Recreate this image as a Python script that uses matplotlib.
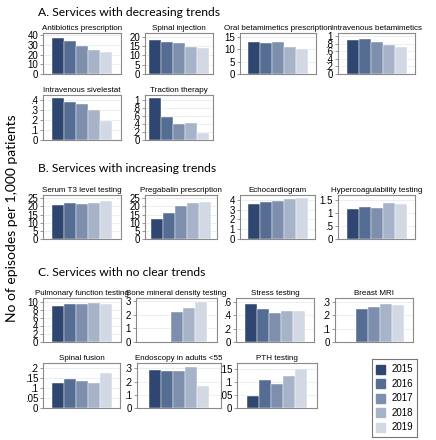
import matplotlib.pyplot as plt
import numpy as np

nan = np.nan

years = ["2015", "2016", "2017", "2018", "2019"]
colors = ["#2F4770", "#566D93", "#7E8FAE", "#A7B3C8", "#D3D9E4"]

# panel titles
titles = [
    "Antibiotics prescription", "Spinal injection", "Oral betamimetics prescription",
    "Intravenous betamimetics", "Intravenous sivelestat", "Traction therapy",
    "Serum T3 level testing", "Pregabalin prescription", "Echocardiogram",
    "Hypercoagulability testing", "Pulmonary function testing", "Bone mineral density testing",
    "Stress testing", "Breast MRI", "Spinal fusion", "Endoscopy in adults <55", "PTH testing",
]

# episodes per 1,000 patients, 2015..2019
antibiotics   = [37.0, 34.0, 29.0, 25.0, 23.2]
spinal_inj    = [18.5, 17.0, 16.4, 14.4, 14.0]
oral_beta     = [12.7, 12.5, 13.0, 10.7, 9.9]
iv_beta       = [0.90, 0.91, 0.85, 0.77, 0.70]
iv_sivelestat = [0.42, 0.38, 0.355, 0.295, 0.185]
traction      = [1.05, 0.57, 0.40, 0.42, 0.17]
serum_t3      = [21.0, 22.0, 21.5, 22.0, 23.2]
pregabalin    = [12.0, 15.7, 20.0, 22.0, 22.6]
echo          = [3.55, 3.75, 3.90, 4.05, 4.15]
hypercoag     = [1.15, 1.22, 1.18, 1.40, 1.37]
pulmonary     = [8.9, 9.6, 9.4, 9.7, 9.4]
bone_density  = [nan, nan, 2.2, 2.5, 2.95]
stress        = [0.57, 0.49, 0.44, 0.46, 0.46]
breast_mri    = [nan, 0.25, 0.265, 0.285, 0.275]
spinal_fusion = [0.125, 0.145, 0.133, 0.127, 0.173]
endoscopy     = [0.29, 0.28, 0.283, 0.31, 0.165]
pth           = [0.048, 0.108, 0.092, 0.126, 0.152]

values = [antibiotics, spinal_inj, oral_beta, iv_beta, iv_sivelestat, traction,
          serum_t3, pregabalin, echo, hypercoag, pulmonary, bone_density,
          stress, breast_mri, spinal_fusion, endoscopy, pth]

yticks = [
    [0, 10, 20, 30, 40], [0, 5, 10, 15, 20], [0, 5, 10, 15], [0, .2, .4, .6, .8, 1],
    [0, .1, .2, .3, .4], [0, .2, .4, .6, .8, 1],
    [0, 5, 10, 15, 20, 25], [0, 5, 10, 15, 20, 25], [0, 1, 2, 3, 4], [0, .5, 1, 1.5],
    [0, 2, 4, 6, 8, 10], [0, 1, 2, 3], [0, .2, .4, .6], [0, .1, .2, .3],
    [0, .05, .1, .15, .2], [0, .1, .2, .3], [0, .05, .1, .15],
]
ymax = [42.5, 22, 16.5, 1.08, 0.45, 1.12, 27, 27, 4.5, 1.7,
        11, 3.25, 0.66, 0.33, 0.225, 0.34, 0.175]

sections = ["A. Services with decreasing trends",
            "B. Services with increasing trends",
            "C. Services with no clear trends"]

# layout (pixels): left, right, top, bottom of each plot frame
boxes = [
    (43, 121, 33, 74), (145, 213, 33, 74), (240, 316, 33, 74), (338, 415, 33, 74),
    (43, 121, 95, 140), (145, 213, 95, 140),
    (43, 121, 195, 239), (145, 217, 195, 239), (240, 315, 195, 239), (338, 415, 195, 239),
    (43, 121, 298, 342), (136, 217, 298, 342), (236, 314, 298, 342), (335, 413, 298, 342),
    (43, 120, 363, 408), (137, 221, 363, 408), (237, 317, 363, 408),
]

W, H = 436, 440
fig = plt.figure(figsize=(W / 100, H / 100), dpi=100)
plt.rcParams['font.family'] = ['Liberation Sans', 'DejaVu Sans']


def stata_fmt(v):
    s = f"{v:g}"
    if s.startswith("0."):
        s = s[1:]
    return s


frame_c = "#8A8A8A"
for i, (l, r, t, b) in enumerate(boxes):
    ax = fig.add_axes([l / W, 1 - b / H, (r - l) / W, (b - t) / H])
    x = np.arange(5)
    ax.bar(x, values[i], width=1.0, color=colors, edgecolor="white", linewidth=0.3, zorder=3)
    # bars span ~60 px inside the frame
    m = max(((r - l) / 12.0 - 5) / 2, 0.3)
    ax.set_xlim(-0.5 - m, 4.5 + m)
    ax.set_ylim(0, ymax[i])
    ax.set_yticks(yticks[i])
    ax.set_yticklabels([stata_fmt(v) for v in yticks[i]])
    ax.set_xticks([])
    ax.tick_params(axis="y", length=2.5, width=0.6, color=frame_c, pad=1, labelsize=7)
    ax.grid(axis="y", color="#E6ECEF", linewidth=0.6, zorder=0)
    for sp in ax.spines.values():
        sp.set_color(frame_c)
        sp.set_linewidth(0.8)
    ax.set_title(titles[i], fontsize=5.8, pad=2.5)

# section headings
for txt, y in zip(sections, [13, 169, 272]):
    fig.text(38 / W, 1 - y / H, txt, fontsize=8.7, family="Lato", va="center", ha="left")

fig.text(12 / W, 1 - 218 / H, "No of episodes per 1,000 patients", rotation=90,
         fontsize=10, family="Lato", va="center", ha="center")

# legend
lg = fig.add_axes([372 / W, 1 - 437 / H, 45 / W, 78 / H])
lg.set_xlim(0, 45)
lg.set_ylim(78, 0)
lg.set_xticks([])
lg.set_yticks([])
for sp in lg.spines.values():
    sp.set_color("#777777")
    sp.set_linewidth(0.8)
for k, (yr, c) in enumerate(zip(years, colors)):
    yc = 10 + k * 14.5
    lg.add_patch(plt.Rectangle((4, yc - 4.5), 9, 9, color=c))
    lg.text(20, yc, yr, fontsize=7, va="center", ha="left")

fig.savefig("out.png", dpi=100)
